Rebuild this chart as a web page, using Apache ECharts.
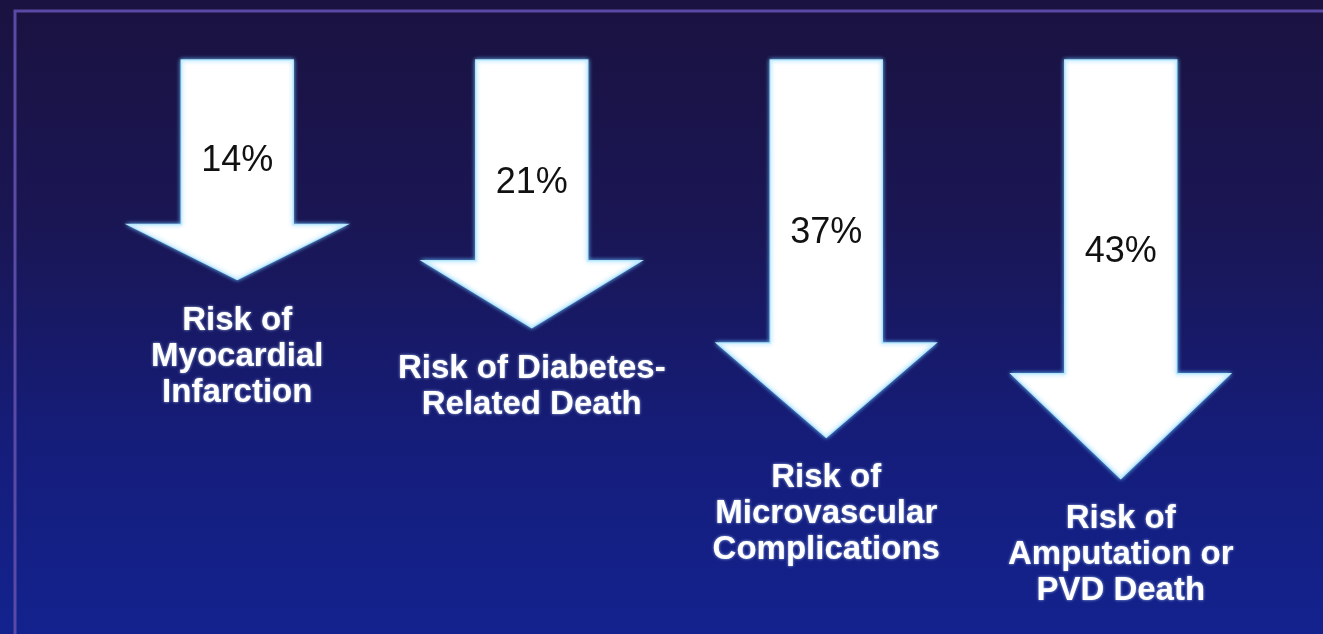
<!DOCTYPE html>
<html>
<head>
<meta charset="utf-8">
<title>Risk reduction</title>
<script src="https://cdn.jsdelivr.net/npm/echarts@6/dist/echarts.min.js"></script>
<style>
  html, body { margin: 0; padding: 0; background: #15103c; }
  #chart { width: 1323px; height: 634px; }
</style>
</head>
<body>
<div id="chart"></div>
<script>
// Outcomes and their relative risk reductions (%)
const categories = [
  'Risk of\nMyocardial\nInfarction',
  'Risk of Diabetes-\nRelated Death',
  'Risk of\nMicrovascular\nComplications',
  'Risk of\nAmputation or\nPVD Death'
];
const reductions = [14, 21, 37, 43];
const valueLabels = ['14%', '21%', '37%', '43%'];

const Y_MIN = -18;   // arrow shafts start at the top of the value axis
const Y_MAX = 60;

const chart = echarts.init(document.getElementById('chart'), null, { renderer: 'canvas' });

function renderArrow(params, api) {
  const i = api.value(0);
  const v = api.value(1);
  const top = api.coord([i, Y_MIN]);
  const tip = api.coord([i, v]);
  const cx = tip[0];
  const band = api.size([1, 0])[0];
  const shaftHalf = band * 0.19;
  const headHalf = band * 0.372;
  const len = tip[1] - top[1];
  const headStart = tip[1] - len * 0.25;

  const points = [
    [cx - shaftHalf, top[1]],
    [cx + shaftHalf, top[1]],
    [cx + shaftHalf, headStart],
    [cx + headHalf, headStart],
    [cx, tip[1]],
    [cx - headHalf, headStart],
    [cx - shaftHalf, headStart]
  ];

  return {
    type: 'group',
    children: [
      {
        type: 'polygon',
        shape: { points: points },
        style: {
          fill: '#ffffff',
          stroke: 'rgba(185,235,255,0.95)',
          lineWidth: 1.5,
          shadowBlur: 4,
          shadowColor: 'rgba(110,200,255,0.9)'
        }
      },
      {
        type: 'text',
        x: cx,
        y: top[1] + len * 0.46,
        style: {
          text: valueLabels[params.dataIndex],
          fill: '#111111',
          font: 'normal 36px "Liberation Sans", Arial, sans-serif',
          align: 'center',
          verticalAlign: 'middle'
        }
      },
      {
        type: 'text',
        x: cx,
        y: tip[1] + 23,
        style: {
          text: categories[params.dataIndex],
          fill: '#ffffff',
          font: 'bold 33px "Liberation Sans", Arial, sans-serif',
          lineHeight: 36,
          align: 'center',
          verticalAlign: 'top',
          textShadowBlur: 3,
          textShadowColor: 'rgba(200,225,255,0.8)'
        }
      }
    ]
  };
}

chart.setOption({
  animation: false,
  backgroundColor: {
    type: 'linear', x: 0, y: 0, x2: 0, y2: 1,
    colorStops: [
      { offset: 0, color: '#1a1240' },
      { offset: 0.35, color: '#1a1654' },
      { offset: 0.7, color: '#151d7a' },
      { offset: 1, color: '#13228e' }
    ]
  },
  graphic: [
    {
      type: 'polyline',
      z: -1,
      shape: { points: [[15, 640], [15, 11], [1330, 11]] },
      style: { stroke: '#5a4aa6', lineWidth: 3, fill: null }
    }
  ],
  grid: { left: 90, right: 55, top: 60, bottom: 39 },
  xAxis: {
    type: 'category',
    data: categories,
    show: false
  },
  yAxis: {
    type: 'value',
    inverse: true,
    min: Y_MIN,
    max: Y_MAX,
    show: false,
    splitLine: { show: false }
  },
  series: [
    {
      type: 'custom',
      renderItem: renderArrow,
      encode: { x: 0, y: 1 },
      data: reductions.map(function (v, i) { return [i, v]; })
    }
  ]
});
</script>
</body>
</html>
